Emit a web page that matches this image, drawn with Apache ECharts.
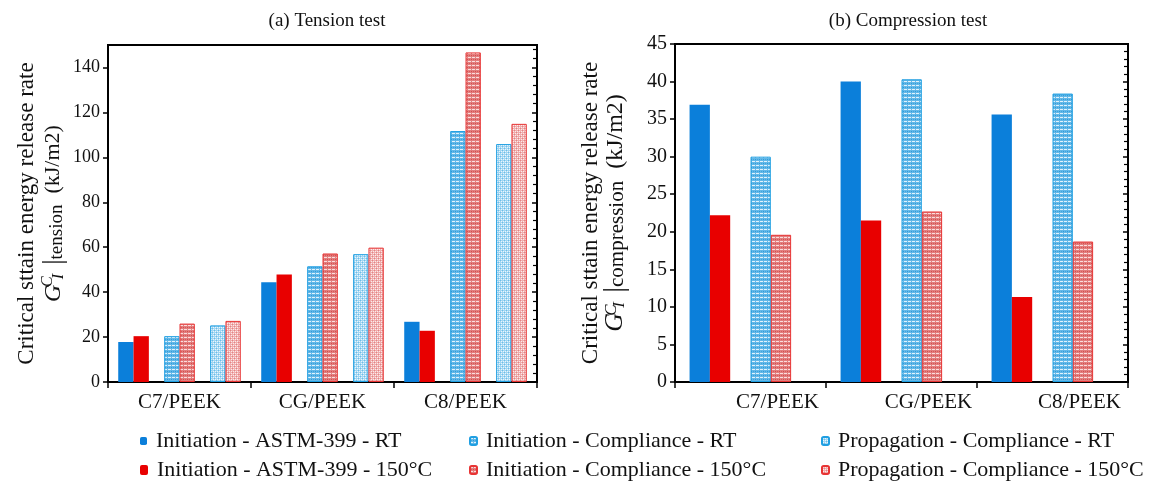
<!DOCTYPE html>
<html>
<head>
<meta charset="utf-8">
<script src="https://cdn.jsdelivr.net/npm/echarts@6/dist/echarts.min.js"></script>
<style>
  html, body { margin: 0; padding: 0; background: #fff; }
  #chart { width: 1156px; height: 482px; }
</style>
</head>
<body>
<div id="chart"></div>
<script>
// Specimen groups
const categories = ['C7/PEEK', 'CG/PEEK', 'C8/PEEK'];

// Tension test, G_I^C (kJ/m2)
const tensionAstmRT = [17.8, 44.4, 26.8];
const tensionAstm150 = [20.4, 47.8, 22.8];
const tensionInitComplRT = [20.4, 51.5, 111.7];
const tensionInitCompl150 = [26.0, 57.2, 146.7];
const tensionPropComplRT = [25.2, 56.9, 105.9];
const tensionPropCompl150 = [27.2, 59.8, 114.9];

// Compression test, G_I^C (kJ/m2)
const compAstmRT = [36.9, 40.0, 35.6];
const compAstm150 = [22.2, 21.5, 11.3];
const compInitComplRT = [30.0, 40.3, 38.4];
const compInitCompl150 = [19.6, 22.7, 18.7];

const seriesNames = [
  'Initiation - ASTM-399 - RT',
  'Initiation - ASTM-399 - 150°C',
  'Initiation - Compliance - RT',
  'Initiation - Compliance - 150°C',
  'Propagation - Compliance - RT',
  'Propagation - Compliance - 150°C'
];

// Small repeating tiles used as hatched fills
function tile(base, dots) {
  const c = document.createElement('canvas');
  c.width = 4; c.height = 4;
  const g = c.getContext('2d');
  g.fillStyle = base; g.fillRect(0, 0, 4, 4);
  dots.forEach(d => { g.fillStyle = d[2]; g.fillRect(d[0], d[1], 1, 1); });
  return { image: c, repeat: 'repeat' };
}
const brickBlue = tile('#63b8e8', [[0,1,'#e2f3fc'],[1,1,'#e2f3fc'],[2,1,'#e2f3fc'],[3,3,'#2f9ad8'],[1,3,'#3fa4dc']]);
const brickRed  = tile('#e27e7e', [[0,1,'#fbdede'],[1,1,'#fbdede'],[2,1,'#fbdede'],[3,3,'#d44c4c'],[1,3,'#d85a5a']]);
const dotBlue = tile('#a3d6f2', [[0,0,'#6bbde9'],[2,2,'#6bbde9'],[1,1,'#eaf6fd'],[3,3,'#eaf6fd'],[3,1,'#eaf6fd'],[1,3,'#eaf6fd']]);
const dotRed  = tile('#efaeae', [[0,0,'#e58383'],[2,2,'#e58383'],[1,1,'#fdeaea'],[3,3,'#fdeaea'],[3,1,'#fdeaea'],[1,3,'#fdeaea']]);

const solidBlue = '#0b7fda';
const solidRed = '#e80000';
const edgeBlue = '#1f9fe2';
const edgeRed = '#e83434';

const FONT = 'Liberation Serif';
const INK = '#111';

function styleFor(i) {
  switch (i) {
    case 0: return { color: solidBlue };
    case 1: return { color: solidRed };
    case 2: return { color: brickBlue, borderColor: edgeBlue, borderWidth: 1 };
    case 3: return { color: brickRed, borderColor: edgeRed, borderWidth: 1 };
    case 4: return { color: dotBlue, borderColor: edgeBlue, borderWidth: 1 };
    case 5: return { color: dotRed, borderColor: edgeRed, borderWidth: 1 };
  }
}

function bar(idx, data, axis, catGap) {
  return {
    type: 'bar', name: seriesNames[idx], data: data,
    xAxisIndex: axis, yAxisIndex: axis * 2,
    barGap: '0%', barCategoryGap: catGap,
    itemStyle: styleFor(idx),
    emphasis: { disabled: true }
  };
}
function spacer(axis, catGap) {
  return {
    type: 'bar', data: [null, null, null],
    xAxisIndex: axis, yAxisIndex: axis * 2,
    barGap: '0%', barCategoryGap: catGap, silent: true
  };
}

// Two-line axis title: description, then G_I^C|_test (kJ/m2)
function yName(sub) {
  return '{t|Critical sttain energy release rate}\n' +
    '{g|G}{sup|C}{subI|I}{vb| |}{sub|' + sub + '}{t2|  (kJ/m2)}';
}
function yRich(s, lh) {
  return {
    t: { fontFamily: FONT, fontSize: 23, color: INK, lineHeight: lh },
    t2: { fontFamily: FONT, fontSize: Math.round(22 * s), color: INK, lineHeight: lh },
    g: { fontFamily: FONT, fontSize: Math.round(24 * s), fontStyle: 'italic', color: INK, lineHeight: lh },
    sup: { fontFamily: FONT, fontSize: Math.round(16 * s), fontStyle: 'italic', color: INK, verticalAlign: 'top', width: 0, lineHeight: 16, padding: [0, 0, 0, 3] },
    subI: { fontFamily: FONT, fontSize: Math.round(16 * s), fontStyle: 'italic', color: INK, verticalAlign: 'bottom', lineHeight: 16, width: 10 },
    vb: { fontFamily: FONT, fontSize: Math.round(27 * s), color: INK, lineHeight: lh },
    sub: { fontFamily: FONT, fontSize: Math.round(19 * s), color: INK, verticalAlign: 'bottom', lineHeight: 19 }
  };
}

function valueAxes(grid, max, interval, minorSplit, name, gap, labelSize, rich) {
  const main = {
    type: 'value', gridIndex: grid, min: 0, max: max, interval: interval,
    name: name, nameLocation: 'middle', nameRotate: 90, nameGap: gap,
    nameTextStyle: { rich: rich, align: 'center' },
    axisLine: { show: true, lineStyle: { color: '#000', width: 2 } },
    axisTick: { show: true, inside: false, length: 5, lineStyle: { color: '#000', width: 1.5 } },
    axisLabel: { fontFamily: FONT, color: INK, fontSize: labelSize, margin: 8,
      showMaxLabel: max % interval === 0,
      formatter: v => (v % interval === 0 ? String(v) : '') },
    splitLine: { show: false }
  };
  const inner = {
    type: 'value', gridIndex: grid, min: 0, max: max, interval: interval,
    axisLine: { show: false },
    axisTick: { show: true, inside: true, length: 5, lineStyle: { color: '#000', width: 1.5 } },
    minorTick: { show: true, splitNumber: minorSplit, length: 4, lineStyle: { color: '#000', width: 1.2 } },
    axisLabel: { show: false },
    splitLine: { show: false }
  };
  return [main, inner];
}

function catAxis(grid, pad) {
  return {
    type: 'category', gridIndex: grid, data: categories,
    axisLine: { show: true, lineStyle: { color: '#000', width: 2 } },
    axisTick: { show: true, alignWithLabel: false, length: 6, lineStyle: { color: '#000', width: 1.5 } },
    axisLabel: { fontFamily: FONT, color: INK, fontSize: 21, margin: 10, padding: [0, 0, 0, pad] }
  };
}

const tensionGap = '14.3%';
const compGap = '19.3%';

// One legend entry per component, laid out as a 3 x 2 block
const legendItem = (left, top, name, big) => ({
  left: left, top: top, itemWidth: big ? 8 : 7, itemHeight: big ? 10 : 8,
  itemGap: 0, data: [name],
  textStyle: { fontFamily: FONT, color: INK, fontSize: 22, padding: [0, 0, 0, 4] },
  selectedMode: false
});

const option = {
  animation: false,
  backgroundColor: '#fff',
  title: [
    { text: '(a) Tension test', left: 322, top: 7, textAlign: 'center',
      textStyle: { fontFamily: FONT, fontSize: 19, fontWeight: 'normal', color: INK } },
    { text: '(b) Compression test', left: 903, top: 7, textAlign: 'center',
      textStyle: { fontFamily: FONT, fontSize: 19, fontWeight: 'normal', color: INK } }
  ],
  grid: [
    { left: 108, right: 619, top: 45, bottom: 100, show: true, borderColor: '#000', borderWidth: 2 },
    { left: 675, right: 28, top: 44, bottom: 100, show: true, borderColor: '#000', borderWidth: 2 }
  ],
  legend: [
    legendItem(135, 425, seriesNames[0]),
    legendItem(135, 454, seriesNames[1], true),
    legendItem(464, 425, seriesNames[2]),
    legendItem(464, 454, seriesNames[3]),
    legendItem(816, 425, seriesNames[4]),
    legendItem(816, 454, seriesNames[5])
  ],
  xAxis: [catAxis(0, 0), catAxis(1, 54)],
  yAxis: [
    ...valueAxes(0, 150, 20, 5, yName('tension'), 41, 18, yRich(1, 27)),
    ...valueAxes(1, 45, 5, 5, yName('compression'), 47, 20, yRich(1.08, 25))
  ],
  series: [
    bar(0, tensionAstmRT, 0, tensionGap),
    bar(1, tensionAstm150, 0, tensionGap),
    spacer(0, tensionGap),
    bar(2, tensionInitComplRT, 0, tensionGap),
    bar(3, tensionInitCompl150, 0, tensionGap),
    spacer(0, tensionGap),
    bar(4, tensionPropComplRT, 0, tensionGap),
    bar(5, tensionPropCompl150, 0, tensionGap),

    bar(0, compAstmRT, 1, compGap),
    bar(1, compAstm150, 1, compGap),
    spacer(1, compGap),
    bar(2, compInitComplRT, 1, compGap),
    bar(3, compInitCompl150, 1, compGap),
    spacer(1, compGap)
  ]
};

const chart = echarts.init(document.getElementById('chart'), null, { renderer: 'canvas' });
chart.setOption(option);
</script>
</body>
</html>
